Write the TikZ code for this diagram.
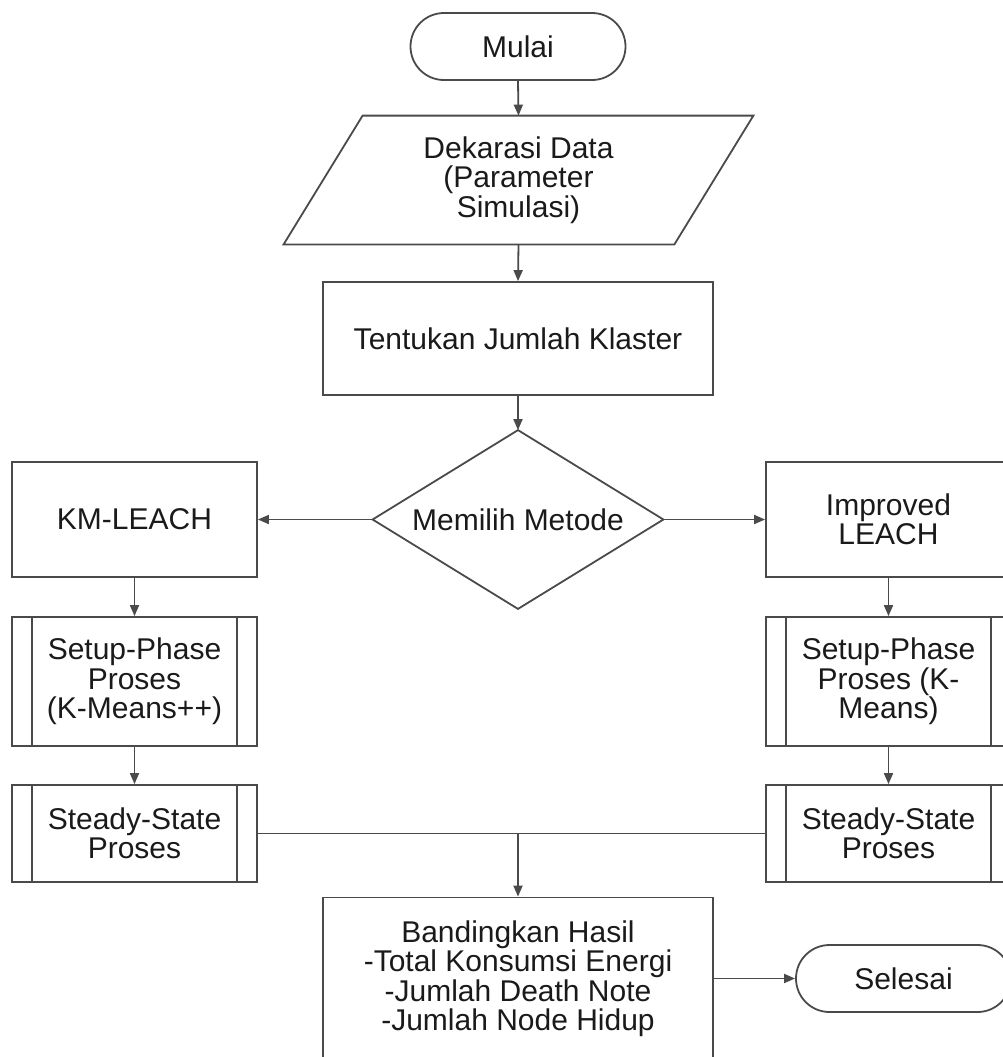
\documentclass[tikz,border=0pt]{standalone}
\usepackage{fontspec}
\setmainfont{Liberation Sans}
\usetikzlibrary{arrows.meta}
\definecolor{ln}{HTML}{4A4A4A}
\definecolor{tx}{HTML}{1A1A1A}
\begin{document}
\begin{tikzpicture}[x=0.5pt,y=-0.5pt,
  txt/.style={text=tx, align=center, inner sep=0pt, font=\fontsize{15}{14.75}\selectfont},
  box/.style={txt, rectangle, draw=ln, line width=0.9pt},
  term/.style={box, rounded corners=16.75pt, minimum width=107.5pt, minimum height=33.5pt},
  ghost/.style={txt, rectangle},
  sidebox/.style={box, minimum width=122.5pt},
  subproc/.style={sidebox, path picture={
      \draw[draw=ln, line width=0.9pt]
        ([xshift=10pt]path picture bounding box.north west) -- ([xshift=10pt]path picture bounding box.south west)
        ([xshift=-10pt]path picture bounding box.north east) -- ([xshift=-10pt]path picture bounding box.south east);}},
  conn/.style={draw=ln, line width=0.9pt},
  arr/.style={conn, -{Triangle[length=5.5pt,width=4.5pt]}}
]
\useasboundingbox (0,0) rectangle (1003,1057);
\clip (0,0) rectangle (1003,1057);

% top column
\node[term] (start) at (518,46.5) {Mulai};
\node[ghost, minimum width=234.5pt, minimum height=64pt] (data) at (518.5,180) {Dekarasi Data\\(Parameter\\Simulasi)};
\draw[conn, line join=miter] (data.south west) -- ([xshift=39.5pt]data.north west) -- (data.north east) -- ([xshift=-39.5pt]data.south east) -- cycle;
\node[box, minimum width=195pt, minimum height=56.5pt] (jml) at (518,338.5) {Tentukan Jumlah Klaster};
\node[ghost, minimum width=145pt, minimum height=89pt] (pilih) at (518,519.5) {Memilih Metode};
\draw[conn, line join=miter] (pilih.north) -- (pilih.east) -- (pilih.south) -- (pilih.west) -- cycle;

% left branch
\node[sidebox, minimum height=57.5pt] (km) at (134.5,519.5) {KM-LEACH};
\node[subproc, minimum height=64.5pt] (setL) at (134.5,681.5) {Setup-Phase\\Proses\\(K-Means++)};
\node[subproc, minimum height=48.5pt] (stL) at (134.5,833.5) {Steady-State\\Proses};

% right branch
\node[sidebox, minimum height=57.5pt] (imp) at (888.5,519.5) {Improved\\LEACH};
\node[subproc, minimum height=64.5pt] (setR) at (888.5,681.5) {Setup-Phase\\Proses (K-\\Means)};
\node[subproc, minimum height=48.5pt] (stR) at (888.5,833.5) {Steady-State\\Proses};

% bottom
\node[box, minimum width=195pt, minimum height=81pt] (band) at (518,978.5) {Bandingkan Hasil\\-Total Konsumsi Energi\\-Jumlah Death Note\\-Jumlah Node Hidup};
\node[term] (end) at (903.5,978.5) {Selesai};

% connectors
\draw[arr] (start.south) -- (data.north);
\draw[arr] (data.south) -- (jml.north);
\draw[arr] (jml.south) -- (pilih.north);
\draw[arr] (pilih.west) -- (km.east);
\draw[arr] (pilih.east) -- (imp.west);
\draw[arr] (km.south) -- (setL.north);
\draw[arr] (setL.south) -- (stL.north);
\draw[arr] (imp.south) -- (setR.north);
\draw[arr] (setR.south) -- (stR.north);
\draw[conn] (stL.east) -- (stR.west);
\coordinate (join) at (stL.east -| band.north);
\draw[arr] (join) -- (band.north);
\draw[arr] (band.east) -- (end.west);
\end{tikzpicture}
\end{document}
